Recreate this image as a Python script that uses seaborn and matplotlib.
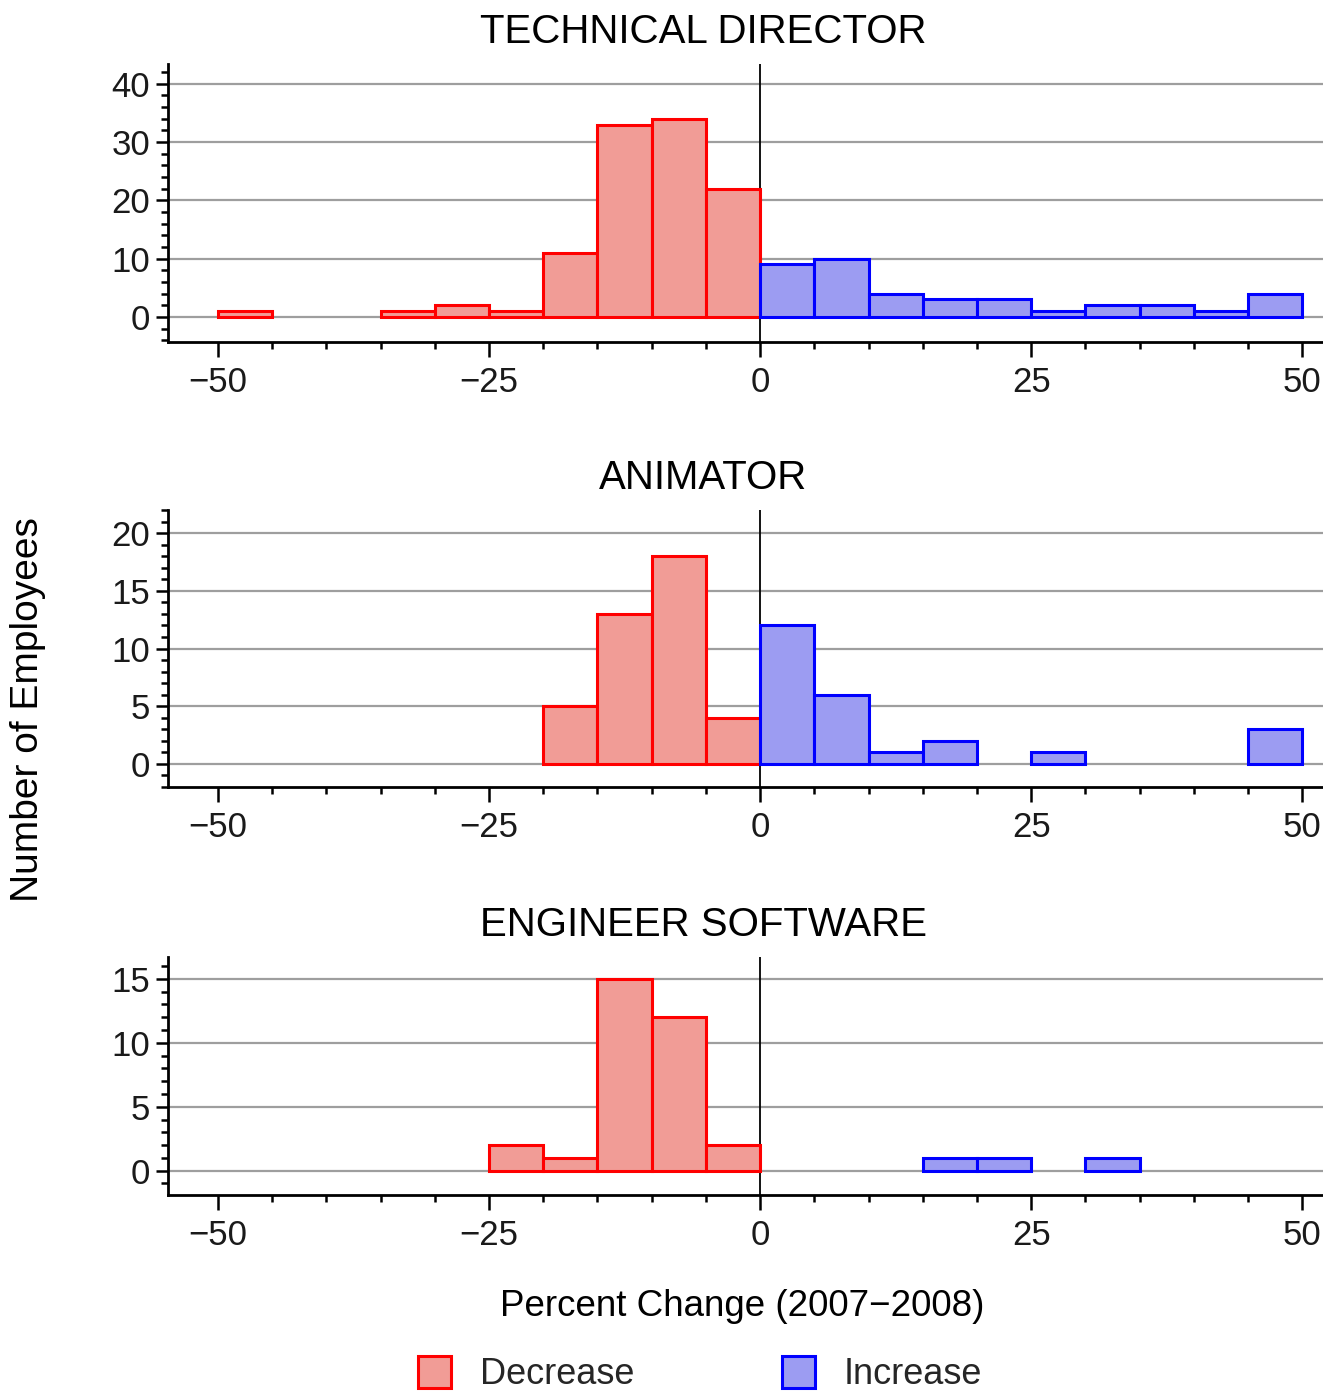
import numpy as np
import pandas as pd
import matplotlib
matplotlib.use("Agg")
import matplotlib.pyplot as plt
from matplotlib.ticker import MultipleLocator
from matplotlib.patches import Patch
import seaborn as sns

# ---- data (counts per 5-point bin) ----
bin_edges = list(range(-50, 55, 5))
bin_centers = [e + 2.5 for e in bin_edges[:-1]]
panels = ["TECHNICAL DIRECTOR", "ANIMATOR", "ENGINEER SOFTWARE"]
td_counts = [1, 0, 0, 1, 2, 1, 11, 33, 34, 22, 9, 10, 4, 3, 3, 1, 2, 2, 1, 4]
an_counts = [0, 0, 0, 0, 0, 0, 5, 13, 18, 4, 12, 6, 1, 2, 0, 1, 0, 0, 0, 3]
en_counts = [0, 0, 0, 0, 0, 2, 1, 15, 12, 2, 0, 0, 0, 1, 1, 0, 1, 0, 0, 0]
all_counts = [td_counts, an_counts, en_counts]
ylims = [(-4.3, 43.4), (-2.0, 22.0), (-1.9, 16.7)]
ymajor = [10, 5, 5]
yminor = [2, 1, 1]
legend_labels = ["Decrease", "Increase"]

dec_face, dec_edge = "#F19C96", "#FF0000"
inc_face, inc_edge = "#9C9CF2", "#0000FF"

sns.set_theme(style="white")
plt.rcParams["font.family"] = ["Liberation Sans", "DejaVu Sans"]

W, H = 1323, 1392
fig = plt.figure(figsize=(W / 100, H / 100), dpi=100)
fig.patch.set_facecolor("white")

axes_px = [(64, 342), (510, 787), (957, 1195)]
left_px = 168

for i, (name, counts) in enumerate(zip(panels, all_counts)):
    top, bot = axes_px[i]
    ax = fig.add_axes([left_px / W, 1 - bot / H, 1 - left_px / W, (bot - top) / H])
    df = pd.DataFrame({"x": bin_centers, "n": counts})
    df["dir"] = np.where(df["x"] < 0, "Decrease", "Increase")
    dec = df[(df["dir"] == "Decrease") & (df["n"] > 0)]
    inc = df[(df["dir"] == "Increase") & (df["n"] > 0)]
    if len(dec):
        sns.histplot(data=dec, x="x", weights="n", bins=bin_edges, ax=ax,
                     color=dec_face, edgecolor=dec_edge, linewidth=2.2, alpha=1.0, zorder=3)
    if len(inc):
        sns.histplot(data=inc, x="x", weights="n", bins=bin_edges, ax=ax,
                     color=inc_face, edgecolor=inc_edge, linewidth=2.2, alpha=1.0, zorder=3)
    # drop empty bins
    for p in list(ax.patches):
        if p.get_height() == 0:
            p.remove()
    ax.set_xlim(-54.6, 51.9)
    ax.set_ylim(*ylims[i])
    ax.xaxis.set_major_locator(MultipleLocator(25))
    ax.xaxis.set_minor_locator(MultipleLocator(5))
    ax.yaxis.set_major_locator(MultipleLocator(ymajor[i]))
    ax.yaxis.set_minor_locator(MultipleLocator(yminor[i]))
    ax.grid(False)
    ax.yaxis.grid(True, which="major", color="#9E9E9E", linewidth=1.6, zorder=0)
    ax.set_axisbelow(True)
    ax.axvline(0, color="black", linewidth=1.3, zorder=2)
    for s in ["top", "right"]:
        ax.spines[s].set_visible(False)
    for s in ["left", "bottom"]:
        ax.spines[s].set_color("black")
        ax.spines[s].set_linewidth(2.0)
    ax.tick_params(axis="both", which="major", direction="out", length=9, width=1.8,
                   color="black", labelsize=25, labelcolor="#1a1a1a", pad=4,
                   left=True, bottom=True)
    ax.tick_params(axis="both", which="minor", direction="out", length=5, width=1.8,
                   color="black", left=True, bottom=True)
    ax.tick_params(axis="x", which="major", length=11, pad=6)
    ax.set_xlabel("")
    ax.set_ylabel("")
    ax.set_facecolor("white")
    title_y = top - 32
    fig.text(703 / W, 1 - title_y / H, name, ha="center", va="center", fontsize=29,
             color="black")

fig.text(28 / W, 1 - 710 / H, "Number of Employees", rotation=90, ha="center",
         va="center", fontsize=28, color="black")
fig.text(742 / W, 1 - 1307 / H, "Percent Change (2007\u22122008)", ha="center",
         va="center", fontsize=26.5, color="black")

handles = [Patch(facecolor=dec_face, edgecolor=dec_edge, linewidth=2.2),
           Patch(facecolor=inc_face, edgecolor=inc_edge, linewidth=2.2)]
fig.legend(handles, legend_labels, loc="center", bbox_to_anchor=(700 / W, 1 - 1374 / H),
           ncol=2, frameon=False, fontsize=26, handlelength=0.9, handleheight=1.0,
           handletextpad=0.8, columnspacing=4.1, borderpad=0)

fig.savefig("out.png", dpi=100, facecolor="white")
